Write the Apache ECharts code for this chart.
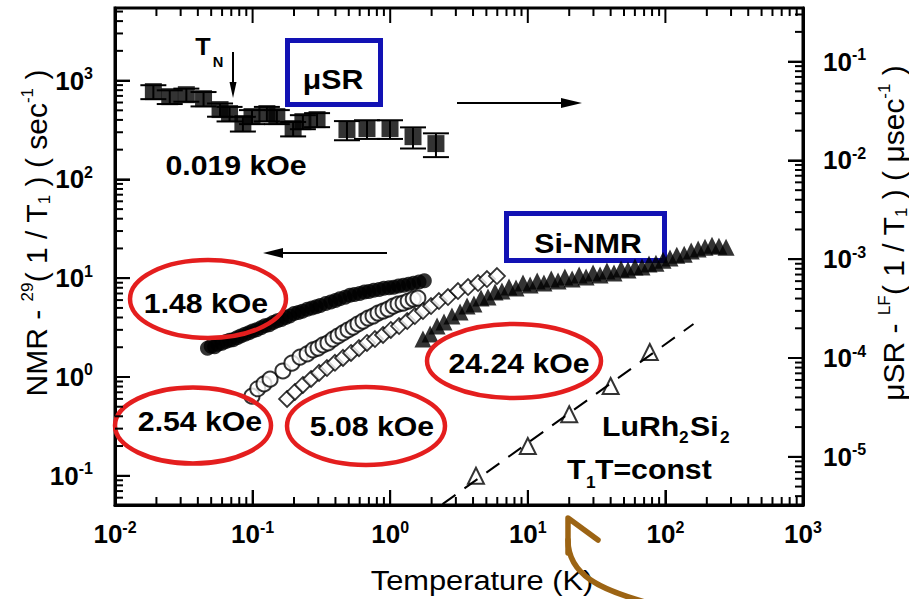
<!DOCTYPE html>
<html>
<head>
<meta charset="utf-8">
<script src="https://cdn.jsdelivr.net/npm/echarts@6/dist/echarts.min.js"></script>
<style>
  html, body { margin: 0; padding: 0; background: #fff; }
  #chart { width: 909px; height: 599px; background: #fff; }
</style>
</head>
<body>
<div id="chart"></div>
<script>
const FONT = '"Liberation Sans", Arial, Helvetica, sans-serif';

// muSR, 0.019 kOe: LF relaxation rate (usec^-1, right axis) with error bars
const muT    = [0.019, 0.025, 0.033, 0.044, 0.058, 0.068, 0.085, 0.099, 0.127, 0.150, 0.197, 0.232, 0.294, 0.485, 0.678, 0.997, 1.465, 2.15];
const muRate = [0.0497, 0.0442, 0.0463, 0.0422, 0.0327, 0.0298, 0.0236, 0.0278, 0.0298, 0.0278, 0.0210, 0.0247, 0.0259, 0.0205, 0.0210, 0.0210, 0.0174, 0.0148];
const muErr  = [0.008, 0.007, 0.007, 0.007, 0.005, 0.005, 0.004, 0.0045, 0.005, 0.0045, 0.0035, 0.004, 0.0042, 0.0045, 0.0045, 0.0045, 0.0042, 0.0040];

// 29Si NMR 1/T1 (sec^-1, left axis), 1.48 kOe
const nmr148T = [0.047, 0.050, 0.053, 0.056, 0.060, 0.064, 0.068, 0.072, 0.077, 0.082, 0.088, 0.094, 0.100, 0.107, 0.115, 0.123, 0.132, 0.141, 0.151, 0.162, 0.174, 0.186, 0.200, 0.215, 0.230, 0.250, 0.270, 0.290, 0.310, 0.340, 0.370, 0.400, 0.430, 0.470, 0.510, 0.550, 0.600, 0.650, 0.700, 0.760, 0.830, 0.900, 0.980, 1.06, 1.15, 1.25, 1.36, 1.48, 1.62, 1.77];
const nmr148V = [1.95, 2.05, 2.02, 2.15, 2.20, 2.28, 2.35, 2.38, 2.50, 2.60, 2.70, 2.80, 2.92, 3.00, 3.15, 3.30, 3.38, 3.55, 3.70, 3.82, 4.00, 4.15, 4.40, 4.50, 4.62, 4.85, 5.00, 5.15, 5.30, 5.55, 5.75, 5.95, 6.20, 6.40, 6.70, 6.85, 7.00, 7.25, 7.35, 7.55, 7.70, 7.90, 8.00, 8.10, 8.35, 8.50, 8.70, 8.90, 9.15, 9.40];

// 2.54 kOe
const nmr254T = [0.099, 0.109, 0.121, 0.134, 0.166, 0.193, 0.221, 0.249, 0.275, 0.299, 0.325, 0.353, 0.384, 0.418, 0.454, 0.494, 0.537, 0.583, 0.634, 0.690, 0.750, 0.815, 0.887, 0.964, 1.05, 1.14, 1.24, 1.35, 1.47, 1.59];
const nmr254V = [0.64, 0.76, 0.85, 0.95, 1.15, 1.38, 1.59, 1.71, 1.88, 1.96, 2.11, 2.21, 2.42, 2.60, 2.79, 2.99, 3.20, 3.44, 3.68, 3.95, 4.14, 4.44, 4.65, 4.87, 5.22, 5.47, 5.60, 5.87, 6.15, 6.29];

// 5.08 kOe
const nmr508T = [0.178, 0.203, 0.232, 0.266, 0.304, 0.347, 0.397, 0.454, 0.519, 0.593, 0.678, 0.775, 0.887, 1.01, 1.16, 1.33, 1.51, 1.73, 1.98, 2.26, 2.63, 3.11, 3.68, 4.35, 5.05, 5.97];
const nmr508V = [0.599, 0.705, 0.830, 0.954, 1.10, 1.23, 1.39, 1.56, 1.75, 1.96, 2.21, 2.42, 2.66, 2.99, 3.28, 3.68, 4.14, 4.65, 5.22, 5.87, 6.44, 7.40, 8.13, 8.92, 9.79, 10.5];

// 24.24 kOe
const nmr2424T = [1.73, 1.95, 2.19, 2.46, 2.81, 3.22, 3.62, 4.06, 4.57, 5.14, 5.78, 6.49, 7.30, 8.21, 9.23, 10.4, 11.7, 13.1, 14.8, 16.6, 18.6, 21.0, 23.6, 26.5, 29.8, 33.5, 37.6, 42.3, 47.6, 53.5, 60.1, 67.6, 76.0, 85.4, 96.1, 108, 121, 137, 154, 173, 194, 218, 245, 276];
const nmr2424V = [2.42, 2.72, 3.28, 3.60, 4.14, 4.54, 5.22, 5.47, 6.29, 6.44, 7.24, 7.40, 8.13, 7.94, 8.92, 8.52, 9.35, 8.92, 9.79, 9.35, 10.3, 9.79, 10.8, 10.3, 11.3, 10.8, 11.8, 11.3, 12.4, 12.1, 13.0, 13.0, 13.9, 14.2, 15.2, 16.0, 17.1, 17.5, 18.8, 19.7, 20.6, 21.6, 21.1, 20.6];

// LuRh2Si2 reference compound and its T1T = const line
const luT = [4.2, 10, 20, 40, 77];
const luV = [0.10, 0.20, 0.42, 0.81, 1.79];
const korringaT = [2.4, 160];
const korringaV = [0.0516, 3.44];

// axis ranges (log scales)
const xRange      = [0.01, 1000];
const yLeftRange  = [0.0506, 5430];
const yRightRange = [3.254e-6, 0.3489];

const zip = (a, b) => a.map((v, i) => [v, b[i]]);

// decade and 2..9 sub-decade tick positions inside [lo, hi]
function logTicks(lo, hi) {
  const out = [];
  for (let e = Math.floor(Math.log10(lo)); e <= Math.ceil(Math.log10(hi)); e++) {
    for (let k = 1; k <= 9; k++) {
      const v = k * Math.pow(10, e);
      if (v >= lo * 0.9999 && v <= hi * 1.0001) out.push([v, k === 1 ? 15 : 8]);
    }
  }
  return out;
}

function powLabel(v) {
  const e = Math.log10(v);
  const r = Math.round(e);
  if (Math.abs(e - r) > 1e-6) return '';
  return '{b|10}{s|' + r + '}';
}
const tickRich = {
  b: { fontSize: 26, fontWeight: 'bold', fontFamily: FONT, color: '#000', lineHeight: 30 },
  s: { fontSize: 16, fontWeight: 'bold', fontFamily: FONT, color: '#000', verticalAlign: 'top', lineHeight: 16 }
};
const tickStyle = () => ({ show: true, inside: true, length: 15, lineStyle: { color: '#000', width: 2 } });

const chart = echarts.init(document.getElementById('chart'), null, { renderer: 'svg' });

const barLine = (x1, y1, x2, y2) => ({
  type: 'line', shape: { x1, y1, x2, y2 }, style: { stroke: '#000', lineWidth: 2 }
});

const series = [
  // muSR error bars
  {
    type: 'custom', silent: true, xAxisIndex: 0, yAxisIndex: 1,
    data: muT.map((t, i) => [t, muRate[i], muErr[i]]),
    encode: { x: 0, y: 1 },
    renderItem(params, api) {
      const t = api.value(0), v = api.value(1), e = api.value(2);
      const hi = api.coord([t, v + e]);
      const lo = api.coord([t, v - e]);
      const w = 13;
      return { type: 'group', children: [
        barLine(hi[0], hi[1], lo[0], lo[1]),
        barLine(hi[0] - w, hi[1], hi[0] + w, hi[1]),
        barLine(lo[0] - w, lo[1], lo[0] + w, lo[1])
      ] };
    }
  },
  {
    name: 'muSR 0.019 kOe', type: 'scatter', yAxisIndex: 1, silent: true,
    symbol: 'rect', symbolSize: 17,
    itemStyle: { color: '#000' },
    data: zip(muT, muRate)
  },
  {
    name: '24.24 kOe', type: 'scatter', silent: true,
    symbol: 'triangle', symbolSize: 17,
    itemStyle: { color: '#000' },
    data: zip(nmr2424T, nmr2424V)
  },
  {
    name: '1.48 kOe', type: 'scatter', silent: true,
    symbol: 'circle', symbolSize: 15,
    itemStyle: { color: '#000' },
    data: zip(nmr148T, nmr148V)
  },
  {
    name: '2.54 kOe', type: 'scatter', silent: true,
    symbol: 'circle', symbolSize: 15,
    itemStyle: { color: '#fff', borderColor: '#000', borderWidth: 2 },
    data: zip(nmr254T, nmr254V)
  },
  {
    name: '5.08 kOe', type: 'scatter', silent: true,
    symbol: 'diamond', symbolSize: 16,
    itemStyle: { color: '#fff', borderColor: '#000', borderWidth: 1.8 },
    data: zip(nmr508T, nmr508V)
  },
  {
    name: 'LuRh2Si2', type: 'scatter', silent: true,
    symbol: 'triangle', symbolSize: 16,
    itemStyle: { color: '#fff', borderColor: '#000', borderWidth: 2 },
    data: zip(luT, luV)
  },
  {
    name: 'T1T=const', type: 'line', silent: true,
    symbol: 'none',
    lineStyle: { color: '#000', width: 2, type: [16, 11] },
    data: zip(korringaT, korringaV)
  }
];

const RED = '#e41e1e';
const BLUE = '#1212b4';
const BROWN = '#9c6414';

function label(text, x, y, size, opts) {
  return Object.assign({
    type: 'text', x, y, z: 100, scaleX: 1.08,
    style: { text, font: 'bold ' + size + 'px ' + FONT, fill: '#000', align: 'center', verticalAlign: 'middle' }
  }, opts || {});
}
function leftText(text, x, y, size) {
  return label(text, x, y, size, { style: { text, font: 'bold ' + size + 'px ' + FONT, fill: '#000', align: 'left', verticalAlign: 'middle' } });
}
function ellipse(cx, cy, rx, ry) {
  return { type: 'ellipse', z: 100, shape: { cx, cy, rx, ry }, style: { stroke: RED, lineWidth: 4.5, fill: 'none' } };
}
function box(x, y, w, h) {
  return { type: 'rect', z: 1, shape: { x, y, width: w, height: h }, style: { stroke: BLUE, lineWidth: 5, fill: 'none' } };
}
function arrowLine(points) {
  return { type: 'polyline', z: 100, shape: { points }, style: { stroke: '#000', lineWidth: 2, fill: 'none' } };
}
function arrowHead(points) {
  return { type: 'polygon', z: 100, shape: { points }, style: { fill: '#000' } };
}

const nameRich = {
  m: { fontSize: 30, fontFamily: FONT, color: '#000', lineHeight: 34 },
  s: { fontSize: 17, fontFamily: FONT, color: '#000', verticalAlign: 'top', lineHeight: 17 },
  d: { fontSize: 17, fontFamily: FONT, color: '#000', verticalAlign: 'bottom', lineHeight: 17 }
};

const graphic = [
  // axis titles
  { type: 'text', x: 482, y: 580, z: 100, scaleX: 1.1,
    style: { text: 'Temperature (K)', font: '28px ' + FONT, fill: '#000', align: 'center', verticalAlign: 'middle' } },
  { type: 'text', x: 36, y: 233, rotation: Math.PI / 2, z: 100,
    style: { text: '{m|NMR - }{s|29}{m|( 1 / T}{d|1}{m| ) ( sec}{s|-1}{m| )}', rich: nameRich, align: 'center', verticalAlign: 'middle' } },
  { type: 'text', x: 893, y: 233, rotation: Math.PI / 2, z: 100,
    style: { text: '{m|\u03bcSR - }{s|LF}{m|( 1 / T}{d|1}{m| ) ( \u03bcsec}{s|-1}{m| )}', rich: nameRich, align: 'center', verticalAlign: 'middle' } },

  // highlight boxes
  box(287.5, 40.5, 93, 64),
  box(506.5, 213.5, 158, 47),
  label('\u03bcSR', 333, 79, 28),
  label('Si-NMR', 588, 243, 28),

  // field labels
  label('0.019 kOe', 236, 165, 28),
  ellipse(208, 299, 78, 39),
  label('1.48 kOe', 206, 303, 28),
  ellipse(193, 425.5, 78, 38),
  label('2.54 kOe', 200, 421, 28),
  ellipse(366, 426, 79, 39),
  label('5.08 kOe', 372, 426, 28),
  ellipse(514, 361, 87, 37),
  label('24.24 kOe', 519, 363, 28),

  // T_N marker
  label('T', 203, 47, 24, { scaleX: 1.05 }),
  label('N', 218, 62, 14, { scaleX: 1.05 }),
  arrowLine([[233, 52], [233, 88]]),
  arrowHead([[229.5, 82], [233, 98], [236.5, 82]]),

  // axis-direction arrows
  arrowLine([[457, 103], [566, 103]]),
  arrowHead([[561, 98], [582, 103], [561, 108]]),
  arrowLine([[387, 253], [278, 253]]),
  arrowHead([[283, 248], [263, 253], [283, 258]]),

  // LuRh2Si2 caption
  leftText('LuRh', 602, 426, 28),
  leftText('2', 679, 438, 16),
  leftText('Si', 690, 426, 28),
  leftText('2', 720, 438, 16),
  leftText('T', 567, 469, 28),
  leftText('1', 586, 483, 16),
  leftText('T=const', 595, 469, 28),

  // brown pointer under the axis
  { type: 'polyline', z: 100, shape: { points: [[568, 553], [568, 518], [598, 540]] },
    style: { stroke: BROWN, lineWidth: 5.5, fill: 'none', lineCap: 'round', lineJoin: 'round' } },
  { type: 'bezierCurve', z: 100,
    shape: { x1: 568, y1: 540, cpx1: 568, cpy1: 575, cpx2: 600, cpy2: 590, x2: 652, y2: 604 },
    style: { stroke: BROWN, lineWidth: 5.5, fill: 'none', lineCap: 'round' } }
];

const GRID = { left: 115, right: 106, top: 8, bottom: 94 };

const option = {
  animation: false,
  grid: Object.assign({ show: true, borderColor: '#000', borderWidth: 3 }, GRID),
  xAxis: {
    type: 'log', logBase: 10, min: xRange[0], max: xRange[1],
    axisLine: { show: true, lineStyle: { color: '#000', width: 3 } }, axisTick: tickStyle(), splitLine: { show: false },
    axisLabel: { margin: 14, formatter: powLabel, rich: tickRich, showMinLabel: true, showMaxLabel: true }
  },
  yAxis: [
    {
      type: 'log', logBase: 10, min: yLeftRange[0], max: yLeftRange[1], position: 'left',
      axisLine: { show: true, lineStyle: { color: '#000', width: 3 } }, axisTick: tickStyle(), splitLine: { show: false },
      axisLabel: { margin: 22, formatter: powLabel, rich: tickRich }
    },
    {
      type: 'log', logBase: 10, min: yRightRange[0], max: yRightRange[1], position: 'right',
      axisLine: { show: true, lineStyle: { color: '#000', width: 3 } }, axisTick: tickStyle(), splitLine: { show: false },
      axisLabel: { margin: 20, formatter: powLabel, rich: tickRich }
    }
  ],
  series
};

chart.setOption(option);

// inward decade and sub-decade ticks on all four sides, placed through the axes' log scales
const W = 909, H = 599;
const pLeft = GRID.left, pRight = W - GRID.right, pTop = GRID.top, pBottom = H - GRID.bottom;
function logPos(v, range, a, b) {
  const f = (Math.log10(v) - Math.log10(range[0])) / (Math.log10(range[1]) - Math.log10(range[0]));
  return a + f * (b - a);
}
function pix(finder, v, range, a, b) {
  let p;
  try { p = chart.convertToPixel(finder, v); } catch (err) { p = NaN; }
  if (Array.isArray(p)) p = p[0];
  const lo = Math.min(a, b) - 2, hi = Math.max(a, b) + 2;
  return (Number.isFinite(p) && p >= lo && p <= hi) ? p : logPos(v, range, a, b);
}
const tickEls = [];
// each tick is a thin filled bar
const vTick = (x, y0, y1) => ({ type: 'rect', z: 200, shape: { x: x - 1, y: Math.min(y0, y1), width: 2, height: Math.abs(y1 - y0) }, style: { fill: '#000' } });
const hTick = (y, x0, x1) => ({ type: 'rect', z: 200, shape: { x: Math.min(x0, x1), y: y - 1, width: Math.abs(x1 - x0), height: 2 }, style: { fill: '#000' } });
logTicks(xRange[0], xRange[1]).forEach(([v, len]) => {
  const px = pix({ xAxisIndex: 0 }, v, xRange, pLeft, pRight);
  tickEls.push(vTick(px, pBottom, pBottom - len));
  tickEls.push(vTick(px, pTop, pTop + len));
});
logTicks(yLeftRange[0], yLeftRange[1]).forEach(([v, len]) => {
  const py = pix({ yAxisIndex: 0 }, v, yLeftRange, pBottom, pTop);
  tickEls.push(hTick(py, pLeft, pLeft + len));
});
logTicks(yRightRange[0], yRightRange[1]).forEach(([v, len]) => {
  const py = pix({ yAxisIndex: 1 }, v, yRightRange, pBottom, pTop);
  tickEls.push(hTick(py, pRight, pRight - len));
});

chart.setOption({ graphic: graphic.concat(tickEls) });
</script>
</body>
</html>
